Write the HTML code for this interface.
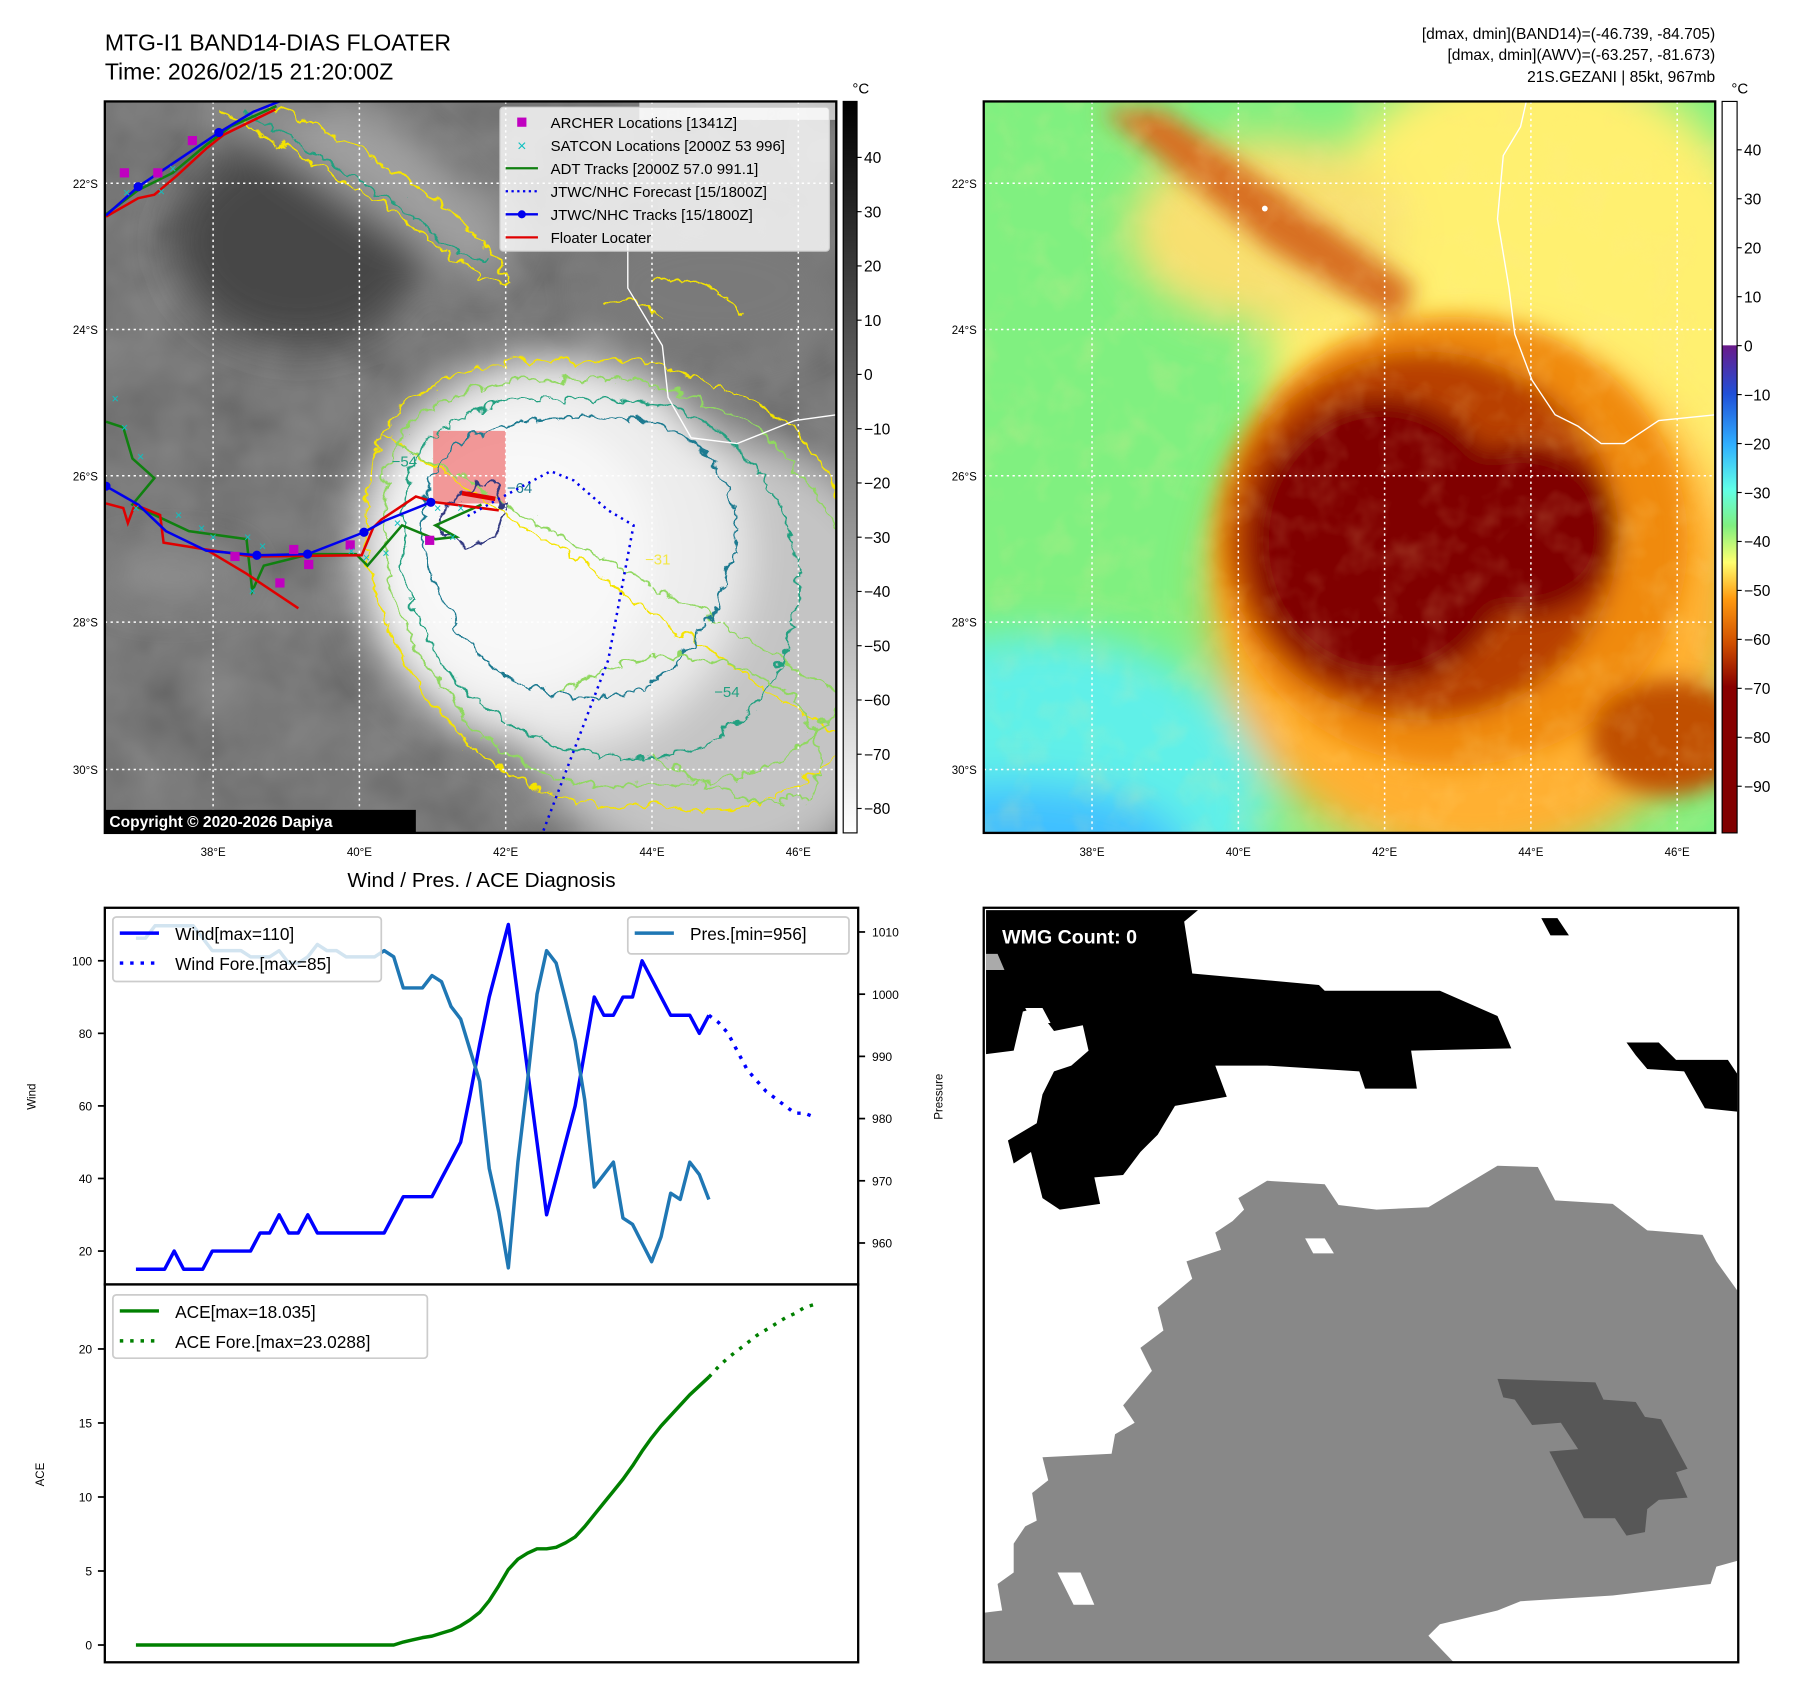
<!DOCTYPE html>
<html><head><meta charset="utf-8"><style>
html,body{margin:0;padding:0;background:#fff;}
svg{display:block;font-family:"Liberation Sans","DejaVu Sans",sans-serif;}
</style></head><body>
<svg id="fig" width="1797" height="1690" viewBox="0 0 1560 1467" xmlns="http://www.w3.org/2000/svg">
<defs>
<filter id="noise1" x="0" y="0" width="100%" height="100%">
<feTurbulence type="fractalNoise" baseFrequency="0.018" numOctaves="3" seed="4" result="t"/>
<feColorMatrix in="t" type="matrix" values="0.33 0.33 0.33 0 0 0.33 0.33 0.33 0 0 0.33 0.33 0.33 0 0 0 0 0 0 0.35"/>
</filter>
<filter id="noise2" x="0" y="0" width="100%" height="100%">
<feTurbulence type="fractalNoise" baseFrequency="0.03" numOctaves="3" seed="9" result="t"/>
<feColorMatrix in="t" type="matrix" values="0 0 0 0 1  0 0 0 0 0.8  0 0 0 0 0.3  1.2 0 0 0 -0.55"/>
</filter>
<filter id="blur8"><feGaussianBlur stdDeviation="8"/></filter>
<filter id="blur18"><feGaussianBlur stdDeviation="18"/></filter>
<filter id="blur10"><feGaussianBlur stdDeviation="10"/></filter>
<filter id="wig" x="-10%" y="-10%" width="120%" height="120%">
<feTurbulence type="turbulence" baseFrequency="0.05" numOctaves="2" seed="7" result="n"/>
<feDisplacementMap in="SourceGraphic" in2="n" scale="14" xChannelSelector="R" yChannelSelector="G"/>
</filter>
<linearGradient id="cb1" x1="0" y1="0" x2="0" y2="1"><stop offset="0" stop-color="#000"/><stop offset="1" stop-color="#fff"/></linearGradient>
<linearGradient id="cb2" x1="0" y1="0" x2="0" y2="1">
<stop offset="0" stop-color="#fff"/><stop offset="0.333" stop-color="#fff"/><stop offset="0.334" stop-color="#6a1a8a"/>
<stop offset="0.40" stop-color="#2050d8"/><stop offset="0.47" stop-color="#30b0ff"/><stop offset="0.53" stop-color="#60ffe8"/>
<stop offset="0.58" stop-color="#80f080"/><stop offset="0.63" stop-color="#ffff70"/><stop offset="0.68" stop-color="#ff9a10"/>
<stop offset="0.74" stop-color="#d05000"/><stop offset="0.80" stop-color="#880000"/><stop offset="1" stop-color="#800000"/>
</linearGradient>
<clipPath id="c1"><rect x="91" y="88" width="635" height="635"/></clipPath>
<clipPath id="c2"><rect x="854" y="88" width="635" height="635"/></clipPath>
<clipPath id="c3"><rect x="854" y="788" width="655" height="655"/></clipPath>
</defs>

<text x="91" y="44" font-size="20">MTG-I1 BAND14-DIAS FLOATER</text>
<text x="91" y="69" font-size="20">Time: 2026/02/15 21:20:00Z</text>
<g font-size="13.5" text-anchor="end">
<text x="1489" y="34">[dmax, dmin](BAND14)=(-46.739, -84.705)</text>
<text x="1489" y="52">[dmax, dmin](AWV)=(-63.257, -81.673)</text>
<text x="1489" y="71">21S.GEZANI | 85kt, 967mb</text>
</g>

<!-- MAP 1 -->
<g clip-path="url(#c1)">
<rect x="91" y="88" width="635" height="635" fill="#555"/>
<rect x="91" y="88" width="635" height="635" fill="#000" filter="url(#noise1)"/>
<g filter="url(#blur18)">
<ellipse cx="260" cy="210" rx="110" ry="90" fill="#474747"/>
<ellipse cx="150" cy="500" rx="60" ry="20" fill="#909090"/>
<path d="M190,95 L330,95 L450,200 L420,250 Z" fill="#a0a0a0"/>
<ellipse cx="620" cy="250" rx="110" ry="60" fill="#7a7a7a"/>
<ellipse cx="620" cy="570" rx="180" ry="190" fill="#c4c4c4"/>
<ellipse cx="480" cy="480" rx="170" ry="170" fill="#ececec"/>
<ellipse cx="450" cy="480" rx="120" ry="120" fill="#f8f8f8"/>
</g>
<rect x="376" y="374" width="63" height="63" fill="#f08080" fill-opacity="0.8"/>
<g fill="none" stroke-width="1.6" filter="url(#wig)">
<path d="M330,372 C360,320 430,305 500,312 C560,298 610,330 650,345 C700,370 720,420 730,440 M730,640 C690,700 610,705 560,695 C480,705 420,665 375,610 C320,550 295,450 330,372Z" stroke="#f5e400"/>
<path d="M340,380 C370,335 440,322 500,328 C560,318 600,345 640,360 C690,390 710,440 730,470 M730,600 C680,680 600,680 560,675 C480,690 420,650 385,600 C335,545 315,460 340,380Z" stroke="#90d860"/>
<path d="M355,395 C385,350 440,340 500,345 C560,338 595,355 625,375 C665,400 680,450 690,490 C690,570 650,640 580,650 C500,665 430,630 395,590 C350,540 335,470 355,395Z" stroke="#20a080"/>
<path d="M370,410 C400,365 450,355 510,360 C560,355 590,370 610,390 C640,420 640,470 620,520 C600,560 570,600 520,600 C470,610 420,580 400,550 C365,500 355,460 370,410Z" stroke="#1f7a90"/>
<path d="M380,440 C400,420 420,410 430,420 C440,440 430,470 400,470 C375,465 372,450 380,440Z" stroke="#303880"/>
<path d="M190,92 C230,120 300,150 350,190 C390,220 420,250 440,240 C420,210 380,170 330,140 C290,115 250,95 230,90" stroke="#f5e400"/>
<path d="M210,92 C250,120 310,150 355,185 C385,210 405,225 420,220" stroke="#20a080"/>
<path d="M480,600 C530,560 600,560 650,580 C700,600 720,650 700,690 C650,700 600,680 560,650" stroke="#90d860"/>
<path d="M560,240 C590,230 620,250 640,270 M520,260 C540,250 560,260 570,275" stroke="#f5e400"/>
</g>
<text x="440" y="428" font-size="13" fill="#1f7a90">−64</text>
<text x="340" y="405" font-size="13" fill="#20a080">−54</text>
<text x="620" y="605" font-size="13" fill="#20a080">−54</text>
<text x="560" y="490" font-size="13" fill="#f5e400" opacity="0.7">−31</text>
<path d="M545,210 L545,250 L560,275 L575,300 L580,345 L600,380 L640,385 L690,365 L726,360" stroke="#fff" fill="none" stroke-width="1.2"/>
<g stroke="#fff" stroke-dasharray="2,3" stroke-width="1.3">
<line x1="185" y1="88" x2="185" y2="723"/><line x1="312" y1="88" x2="312" y2="723"/><line x1="439" y1="88" x2="439" y2="723"/><line x1="566" y1="88" x2="566" y2="723"/><line x1="693" y1="88" x2="693" y2="723"/>
<line x1="91" y1="159" x2="726" y2="159"/><line x1="91" y1="286" x2="726" y2="286"/><line x1="91" y1="413" x2="726" y2="413"/><line x1="91" y1="540" x2="726" y2="540"/><line x1="91" y1="668" x2="726" y2="668"/>
</g>
<g fill="none" stroke-width="2.2">
<polyline stroke="#108010" points="92,366 107,371 115,398 134,415 115,438 164,461 214,468 219,513 229,491 269,481 309,481 319,491 349,456 378,468 396,466 378,456 418,438"/>
<polyline stroke="#108010" points="92,186 120,165 150,150 180,125 200,110 240,92"/>
<polyline stroke="#e00000" points="92,437 107,441 111,454 117,438 139,447 142,471 179,477 214,498 259,528"/>
<polyline stroke="#e00000" points="179,477 219,483 314,482 324,458 331,451 361,431 378,436 418,441 433,443"/>
<polyline stroke="#e00000" points="92,188 120,172 134,169 154,152 179,129 194,117 239,95"/>
<line x1="401" y1="428" x2="430" y2="433" stroke="#e00000" stroke-width="4"/>
<polyline stroke="#0000ee" points="92,422 120,438 144,461 179,478 223,482 267,481 316,462 334,452 374,436"/>
<polyline stroke="#0000ee" points="92,187 120,162 190,115 220,97 250,85"/>
<polyline stroke="#0000ee" stroke-dasharray="2,4" points="406,448 433,433 478,409 498,417 528,443 550,456 528,573 471,723"/>
</g>
<g fill="#0000ee"><circle cx="92" cy="422" r="4"/><circle cx="223" cy="482" r="4"/><circle cx="267" cy="481" r="4"/><circle cx="316" cy="462" r="4"/><circle cx="374" cy="436" r="4"/><circle cx="120" cy="162" r="4"/><circle cx="190" cy="115" r="4"/></g>
<g fill="#c000c0">
<rect x="104" y="146" width="8" height="8"/><rect x="133" y="146" width="8" height="8"/><rect x="163" y="118" width="8" height="8"/><rect x="200" y="479" width="8" height="8"/><rect x="251" y="473" width="8" height="8"/><rect x="264" y="486" width="8" height="8"/><rect x="239" y="502" width="8" height="8"/><rect x="300" y="469" width="8" height="8"/><rect x="369" y="465" width="8" height="8"/>
</g>
<g fill="#10c0c0" font-size="11" text-anchor="middle">
<text x="110" y="171">×</text><text x="140" y="170">×</text><text x="150" y="150">×</text><text x="100" y="350">×</text><text x="108" y="375">×</text><text x="122" y="400">×</text><text x="118" y="445">×</text><text x="155" y="451">×</text><text x="175" y="462">×</text><text x="185" y="470">×</text><text x="219" y="517">×</text><text x="215" y="470">×</text><text x="228" y="478">×</text><text x="305" y="482">×</text><text x="318" y="488">×</text><text x="335" y="484">×</text><text x="345" y="458">×</text><text x="380" y="445">×</text><text x="393" y="470">×</text><text x="400" y="445">×</text>
</g>
<rect x="555" y="88" width="171" height="16" fill="#fff" fill-opacity="0.6"/>
<text x="565" y="104" font-size="13" font-weight="bold" fill="#ccc">© EUMETSAT 2026</text>
</g>
<g>
<rect x="434" y="93" width="286" height="125" rx="3" fill="#fff" fill-opacity="0.8" stroke="#ccc"/>
<g font-size="13">
<rect x="449" y="102" width="8" height="8" fill="#c000c0"/><text x="478" y="111">ARCHER Locations [1341Z]</text>
<text x="453" y="131" fill="#10c0c0" font-size="14" text-anchor="middle">×</text><text x="478" y="131">SATCON Locations [2000Z 53 996]</text>
<line x1="439" y1="146" x2="467" y2="146" stroke="#108010" stroke-width="2"/><text x="478" y="151">ADT Tracks [2000Z 57.0 991.1]</text>
<line x1="439" y1="166" x2="467" y2="166" stroke="#0000ee" stroke-width="2" stroke-dasharray="2,3"/><text x="478" y="171">JTWC/NHC Forecast [15/1800Z]</text>
<line x1="439" y1="186" x2="467" y2="186" stroke="#0000ee" stroke-width="2"/><circle cx="453" cy="186" r="3.5" fill="#0000ee"/><text x="478" y="191">JTWC/NHC Tracks [15/1800Z]</text>
<line x1="439" y1="206" x2="467" y2="206" stroke="#e00000" stroke-width="2"/><text x="478" y="211">Floater Locater</text>
</g></g>
<rect x="91" y="703" width="270" height="20" fill="#000"/>
<text x="95" y="718" font-size="13.5" font-weight="bold" fill="#fff">Copyright © 2020-2026 Dapiya</text>
<rect x="91" y="88" width="635" height="635" fill="none" stroke="#000" stroke-width="2"/>

<!-- MAP 2 -->
<g clip-path="url(#c2)">
<rect x="854" y="88" width="635" height="635" fill="#80f080"/>
<g filter="url(#blur18)">
<ellipse cx="900" cy="700" rx="200" ry="150" fill="#60f0e8"/>
<ellipse cx="880" cy="740" rx="150" ry="60" fill="#40c0ff"/>
<ellipse cx="1330" cy="320" rx="230" ry="270" fill="#fff070"/>
<ellipse cx="1100" cy="200" rx="120" ry="80" fill="#f8e070"/>
<ellipse cx="1280" cy="520" rx="230" ry="230" fill="#ffb030"/>
</g>
<g filter="url(#blur10)">
<path d="M955,95 L1010,95 L1230,250 L1210,280 L1100,215 Z" fill="#d87020"/>
<ellipse cx="1260" cy="470" rx="205" ry="195" fill="#f08a10"/>
<ellipse cx="1235" cy="465" rx="170" ry="160" fill="#b84000"/>
<ellipse cx="1200" cy="470" rx="115" ry="125" fill="#800000"/>
<ellipse cx="1320" cy="460" rx="85" ry="75" fill="#800000"/>
<ellipse cx="1450" cy="640" rx="70" ry="50" fill="#c05000"/>
</g>
<rect x="854" y="88" width="635" height="635" fill="#000" filter="url(#noise2)" opacity="0.35"/>
<path d="M1325,88 L1320,110 L1305,135 L1300,190 L1310,250 L1315,290 L1330,330 L1350,360 L1370,370 L1390,385 L1410,385 L1440,365 L1489,360" stroke="#fff" fill="none" stroke-width="1.2"/>
<circle cx="1098" cy="181" r="2.5" fill="#fff"/>
<g stroke="#fff" stroke-dasharray="2,3" stroke-width="1.3">
<line x1="948" y1="88" x2="948" y2="723"/><line x1="1075" y1="88" x2="1075" y2="723"/><line x1="1202" y1="88" x2="1202" y2="723"/><line x1="1329" y1="88" x2="1329" y2="723"/><line x1="1456" y1="88" x2="1456" y2="723"/>
<line x1="854" y1="159" x2="1489" y2="159"/><line x1="854" y1="286" x2="1489" y2="286"/><line x1="854" y1="413" x2="1489" y2="413"/><line x1="854" y1="540" x2="1489" y2="540"/><line x1="854" y1="668" x2="1489" y2="668"/>
</g>
</g>
<rect x="854" y="88" width="635" height="635" fill="none" stroke="#000" stroke-width="2"/>

<g font-size="10">
<g text-anchor="end"><text x="85" y="163">22°S</text><text x="85" y="290">24°S</text><text x="85" y="417">26°S</text><text x="85" y="544">28°S</text><text x="85" y="672">30°S</text>
<text x="848" y="163">22°S</text><text x="848" y="290">24°S</text><text x="848" y="417">26°S</text><text x="848" y="544">28°S</text><text x="848" y="672">30°S</text></g>
<g text-anchor="middle"><text x="185" y="743">38°E</text><text x="312" y="743">40°E</text><text x="439" y="743">42°E</text><text x="566" y="743">44°E</text><text x="693" y="743">46°E</text>
<text x="948" y="743">38°E</text><text x="1075" y="743">40°E</text><text x="1202" y="743">42°E</text><text x="1329" y="743">44°E</text><text x="1456" y="743">46°E</text></g>
</g>

<g>
<rect x="732" y="88" width="12" height="635" fill="url(#cb1)" stroke="#000"/>
<text x="740" y="81" font-size="13">°C</text>
<g font-size="13.5" id="cb1t"></g>
</g>
<g>
<rect x="1495" y="88" width="13" height="635" fill="url(#cb2)" stroke="#000"/>
<text x="1503" y="81" font-size="13">°C</text>
<g font-size="13.5" id="cb2t"></g>
</g>

<text x="418" y="770" font-size="18" text-anchor="middle">Wind / Pres. / ACE Diagnosis</text>
<g id="chart"></g>

<g clip-path="url(#c3)">
<rect x="854" y="788" width="655" height="655" fill="#fff"/>
<polygon fill="#000" points="856,790 1040,790 1028,800 1035,845 1145,855 1150,860 1250,860 1300,882 1312,910 1225,912 1230,945 1185,945 1180,930 1100,925 1055,925 1065,952 1020,960 1005,985 990,1000 975,1020 950,1022 955,1045 920,1050 905,1040 895,1000 880,1010 875,990 900,975 905,950 915,930 930,925 945,912 940,890 915,895 900,875 888,878 880,912 856,915"/>
<polygon fill="#fff" points="890,875 905,875 912,888 897,888"/>
<polygon fill="#000" points="1338,797 1352,797 1362,812 1346,812"/>
<polygon fill="#000" points="1412,905 1440,905 1455,920 1500,920 1508,932 1508,965 1480,962 1462,930 1430,928 1420,916"/>
<polygon fill="#aaa" points="856,828 866,828 872,842 856,842"/>
<polygon fill="#888" points="1075,1040 1100,1025 1150,1028 1162,1046 1195,1050 1240,1048 1300,1012 1335,1013 1350,1042 1400,1045 1430,1068 1478,1072 1490,1095 1508,1120 1508,1355 1490,1360 1485,1375 1400,1385 1320,1390 1300,1398 1250,1410 1240,1420 1262,1443 854,1443 854,1400 870,1398 866,1375 880,1365 880,1340 890,1325 900,1320 896,1296 910,1285 905,1265 965,1262 968,1245 985,1235 975,1220 1000,1190 990,1170 1010,1155 1005,1135 1035,1110 1030,1095 1060,1085 1055,1070 1070,1060 1080,1050"/>
<polygon fill="#fff" points="1133,1075 1150,1075 1158,1088 1140,1088"/>
<polygon fill="#fff" points="918,1365 938,1365 950,1393 932,1393"/>
<polygon fill="#575757" points="1300,1197 1385,1200 1392,1215 1420,1217 1428,1230 1442,1232 1465,1275 1455,1278 1465,1300 1440,1302 1430,1310 1428,1330 1412,1333 1402,1318 1375,1318 1345,1260 1370,1258 1355,1235 1330,1237 1315,1215 1305,1213"/>
<text x="870" y="819" font-size="17" font-weight="bold" fill="#fff">WMG Count: 0</text>
</g>
<rect x="854" y="788" width="655" height="655" fill="none" stroke="#000" stroke-width="2"/>

<script>
const windObs = [15,15,15,15,20,15,15,15,20,20,20,20,20,25,25,30,25,25,30,25,25,25,25,25,25,25,25,30,35,35,35,35,40,45,50,63,77,90,100,110,90,70,50,30,40,50,60,75,90,85,85,90,90,100,95,90,85,85,85,80,85];
const windFore = [85,83,80,75,70,67,64,62,60,58,58,57];
const presObs = [1009,1009,1011,1011,1011,1011,1011,1009,1007,1007,1007,1007,1006,1006,1006,1007,1005,1005,1006,1008,1007,1007,1006,1006,1006,1006,1007,1006,1001,1001,1001,1003,1002,998,996,991,986,972,965,956,973,986,1000,1007,1005,999,992.5,983,969,971,973,964,963,960,957,961,968,967,973,971,967];
const aceObs = [0,0,0,0,0,0,0,0,0,0,0,0,0,0,0,0,0,0,0,0,0,0,0,0,0,0,0,0,0.2,0.35,0.5,0.6,0.8,1.0,1.3,1.7,2.2,3.0,4.0,5.1,5.8,6.2,6.5,6.5,6.6,6.9,7.3,8.0,8.8,9.6,10.4,11.2,12.1,13.1,14.0,14.8,15.5,16.2,16.9,17.5,18.1];
const aceFore = [18.1,18.8,19.4,19.9,20.4,20.9,21.3,21.7,22.1,22.4,22.8,23.0];
const windTicks = [20,40,60,80,100];
const presTicks = [960,970,980,990,1000,1010];
const aceTicks = [0,5,10,15,20];
const cb1Ticks = [40,30,20,10,0,-10,-20,-30,-40,-50,-60,-70,-80];
const cb2Ticks = [40,30,20,10,0,-10,-20,-30,-40,-50,-60,-70,-80,-90];

const NS='http://www.w3.org/2000/svg';
const xS = i => 118 + 8.29*i;
const yW = v => 1086 - (v-20)*3.15;
const yP = v => 809 + (1010-v)*5.4;
const yA = v => 1428 - v*12.85;
const yCB1 = v => 325 - v*4.71;
const yCB2 = v => 300 - v*4.25;
function mk(tag, attrs, parent){const e=document.createElementNS(NS,tag);for(const k in attrs)e.setAttribute(k,attrs[k]);parent.appendChild(e);return e;}
const chart=document.getElementById('chart');

const cb1=document.getElementById('cb1t');
cb1Ticks.forEach(v=>{const y=yCB1(v);
 const l=mk('line',{x1:744,x2:748,y1:y,y2:y,stroke:'#000'},cb1);
 
 
 const t=mk('text',{x:750,y:y+5},cb1);t.textContent=(v<0?'−':'')+Math.abs(v);
 
 });
const cb2=document.getElementById('cb2t');
cb2Ticks.forEach(v=>{const y=yCB2(v);
 const l=mk('line',{x1:1508,x2:1512,y1:y,y2:y,stroke:'#000'},cb2);
 
 
 const t=mk('text',{x:1514,y:y+5},cb2);t.textContent=(v<0?'−':'')+Math.abs(v);
 
 });

const f1=mk('rect',{x:91,y:788,width:654,height:327,fill:'#fff',stroke:'#000','stroke-width':2},chart);


const f2=mk('rect',{x:91,y:1115,width:654,height:328,fill:'#fff',stroke:'#000','stroke-width':2},chart);



function tickL(v,y,lab){const l=mk('line',{x1:85,x2:91,y1:y,y2:y,stroke:'#000','stroke-width':1.5},chart);
 
 
 const t=mk('text',{x:80,y:y+4,'font-size':10.5,'text-anchor':'end'},chart);t.textContent=lab;
 
 }
windTicks.forEach(v=>tickL(v,yW(v),v));
aceTicks.forEach(v=>tickL(v,yA(v),v));
presTicks.forEach(v=>{const y=yP(v);const l=mk('line',{x1:745,x2:751,y1:y,y2:y,stroke:'#000','stroke-width':1.5},chart);
 
 
 const t=mk('text',{x:757,y:y+4,'font-size':10.5},chart);t.textContent=v;
 
 });

function axLab(x,y,txt,name){const t=mk('text',{x:x,y:y,'font-size':10,'text-anchor':'middle',transform:`rotate(-90 ${x} ${y})`},chart);t.textContent=txt;
 
 }
axLab(31,952,'Wind','wind-axis-title');
axLab(818,952,'Pressure','pressure-axis-title');
axLab(38,1280,'ACE','ace-axis-title');

function line(arr,off,yf,color,dash,name){const pts=arr.map((v,i)=>xS(i+off).toFixed(1)+','+yf(v).toFixed(1)).join(' ');
 const p=mk('polyline',{points:pts,fill:'none',stroke:color,'stroke-width':3,'stroke-linejoin':'round'},chart);
 if(dash)p.setAttribute('stroke-dasharray',dash);
 
 }
line(windObs,0,yW,'#0000ff',null,'wind-line');
line(windFore,windObs.length-1,yW,'#0000ff','3,6','wind-forecast-line');
line(presObs,0,yP,'#1f77b4',null,'pressure-line');
line(aceObs,0,yA,'#008000',null,'ace-line');
line(aceFore,aceObs.length-1,yA,'#008000','3,6','ace-forecast-line');

function legend(x,y,w,h,items,name){const g=mk('g',{},chart);
 
 
 mk('rect',{x:x,y:y,width:w,height:h,rx:3,fill:'#fff','fill-opacity':0.8,stroke:'#ccc','stroke-width':1.5},g);
 items.forEach((it,k)=>{const yy=y+14+k*26;
  const l=mk('line',{x1:x+6,x2:x+40,y1:yy,y2:yy,stroke:it[1],'stroke-width':3},g);if(it[2])l.setAttribute('stroke-dasharray',it[2]);
  const t=mk('text',{x:x+54,y:yy+6,'font-size':15},g);t.textContent=it[0];});}
legend(98,796,233,56,[['Wind[max=110]','#0000ff'],['Wind Fore.[max=85]','#0000ff','3,6']],'wind-legend');
legend(545,796,192,32,[['Pres.[min=956]','#1f77b4']],'pressure-legend');
legend(98,1124,273,55,[['ACE[max=18.035]','#008000'],['ACE Fore.[max=23.0288]','#008000','3,6']],'ace-legend');
</script>
</svg>
</body></html>
